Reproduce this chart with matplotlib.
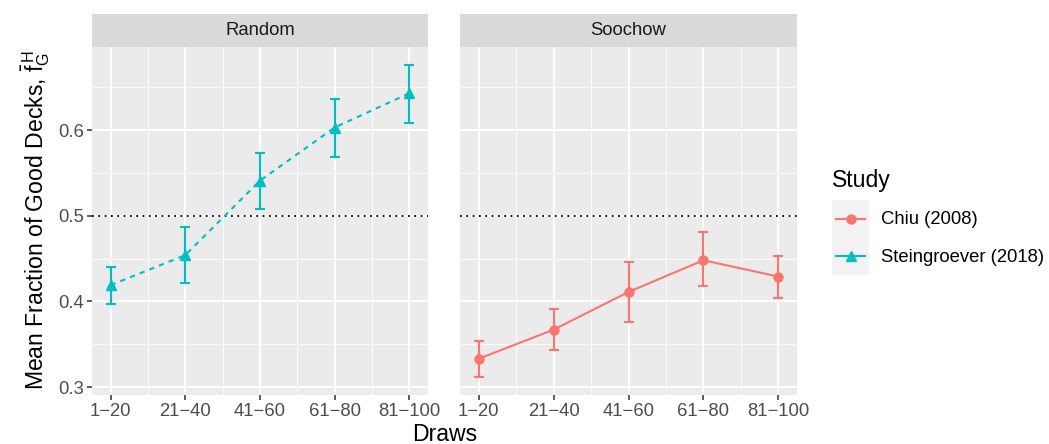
import numpy as np
import matplotlib
matplotlib.use("Agg")
import matplotlib.pyplot as plt

plt.rcParams["font.family"] = ["Liberation Sans", "DejaVu Sans"]
plt.rcParams["mathtext.fontset"] = "custom"
plt.rcParams["mathtext.rm"] = "Liberation Sans"
plt.rcParams["mathtext.it"] = "Liberation Sans"

draws = ["1\u221220", "21\u221240", "41\u221260", "61\u221280", "81\u2212100"]
panels = ["Random", "Soochow"]

# Steingroever (2018) - Random panel
stein_mean = [0.419, 0.454, 0.541, 0.603, 0.643]
stein_lo = [0.397, 0.421, 0.508, 0.568, 0.608]
stein_hi = [0.440, 0.487, 0.573, 0.636, 0.676]

# Chiu (2008) - Soochow panel
chiu_mean = [0.333, 0.367, 0.411, 0.448, 0.429]
chiu_lo = [0.312, 0.343, 0.376, 0.418, 0.404]
chiu_hi = [0.354, 0.391, 0.446, 0.481, 0.453]

RED = "#F8766D"
CYAN = "#00BFC4"
GRID_BG = "#EBEBEB"
TICK_C = "#4D4D4D"

W, H = 1049, 444
fig = plt.figure(figsize=(W / 100, H / 100), dpi=100)

def fx(px):
    return px / W

def fy(py):
    return 1 - py / H

ax_bot, ax_top = 395, 47
strip_top = 14
lefts = [(92, 428), (460, 797)]

x = np.arange(1, 6)
series = [
    (stein_mean, stein_lo, stein_hi, CYAN, "^", (0, (2.5, 2.5))),
    (chiu_mean, chiu_lo, chiu_hi, RED, "o", "-"),
]

for i, (l, r) in enumerate(lefts):
    ax = fig.add_axes([fx(l), fy(ax_bot), fx(r - l), fy(ax_top) - fy(ax_bot)])
    ax.set_facecolor(GRID_BG)
    for s in ax.spines.values():
        s.set_visible(False)
    ax.set_xlim(0.75, 5.25)
    ax.set_ylim(0.2907, 0.697)
    ax.set_xticks(x)
    ax.set_xticks(np.arange(1.5, 5, 1), minor=True)
    ax.set_yticks([0.3, 0.4, 0.5, 0.6])
    ax.set_yticks([0.35, 0.45, 0.55, 0.65], minor=True)
    ax.grid(which="major", color="white", linewidth=1.3)
    ax.grid(which="minor", color="white", linewidth=0.6)
    ax.set_axisbelow(True)
    ax.set_xticklabels(draws, fontsize=13.3, color=TICK_C)
    ax.tick_params(axis="both", which="major", length=3.5, width=1.1,
                   color="#333333", pad=2)
    ax.tick_params(axis="both", which="minor", length=0)
    if i == 0:
        ax.set_yticklabels(["0.3", "0.4", "0.5", "0.6"], fontsize=13.3, color=TICK_C)
    else:
        ax.tick_params(axis="y", which="major", length=0, labelleft=False)

    ax.axhline(0.5, color="black", linestyle=(0, (1, 2.5)), linewidth=1.3, zorder=2)

    mean, lo, hi, col, mk, ls = series[i]
    mean = np.array(mean)
    yerr = [mean - np.array(lo), np.array(hi) - mean]
    ax.errorbar(x, mean, yerr=yerr, fmt="none", ecolor=col, elinewidth=1.5,
                capsize=3.5, capthick=1.5, zorder=3)
    ax.plot(x, mean, color=col, linestyle=ls, linewidth=1.5, zorder=4)
    ax.plot(x, mean, linestyle="none", marker=mk, color=col,
            markersize=7.5 if mk == "^" else 6.5, zorder=5)

    # facet strip
    sax = fig.add_axes([fx(l), fy(ax_top), fx(r - l), fy(strip_top) - fy(ax_top)])
    sax.set_facecolor("#D9D9D9")
    sax.set_xticks([])
    sax.set_yticks([])
    for s in sax.spines.values():
        s.set_visible(False)
    sax.text(0.5, 0.5, panels[i], ha="center", va="center", fontsize=13.3,
             color="#1A1A1A", transform=sax.transAxes)

fig.text(fx(445), fy(434), "Draws", ha="center", va="center", fontsize=16.6)
fig.text(fx(36), fy(220), r"Mean Fraction of Good Decks, $\bar{f}^{\,H}_{G}$",
         ha="center", va="center", rotation=90, fontsize=16.6)

# legend
fig.text(fx(832), fy(180), "Study", ha="left", va="center", fontsize=16.6)
kax = fig.add_axes([fx(832), fy(275), fx(37), fy(200) - fy(275)])
kax.set_xlim(0, 1)
kax.set_ylim(0, 2)
kax.set_facecolor("#F2F2F2")
kax.set_xticks([])
kax.set_yticks([])
for s in kax.spines.values():
    s.set_visible(False)
kax.plot([0.1, 0.9], [1.5, 1.5], color=RED, linewidth=1.5)
kax.plot([0.5], [1.5], marker="o", color=RED, markersize=6.5)
kax.plot([0.1, 0.9], [0.5, 0.5], color=CYAN, linewidth=1.5)
kax.plot([0.5], [0.5], marker="^", color=CYAN, markersize=7.5)
fig.text(fx(881), fy(219), "Chiu (2008)", ha="left", va="center", fontsize=13.3)
fig.text(fx(881), fy(257), "Steingroever (2018)", ha="left", va="center", fontsize=13.3)

fig.savefig("out.png", dpi=100)
